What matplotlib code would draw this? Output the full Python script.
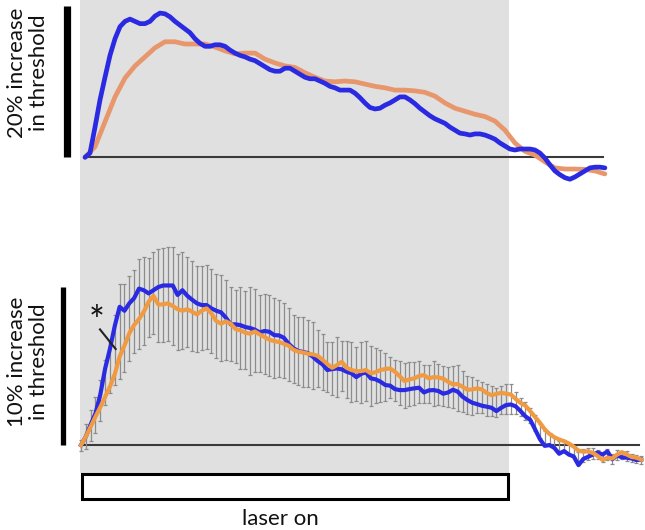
import numpy as np
import matplotlib
matplotlib.use("Agg")
import matplotlib.pyplot as plt
from matplotlib.patches import Rectangle

# ── colours ────────────────────────────────────────────────────────────────
BLUE   = "#2a2ae2"
SALMON = "#e8966c"
ORANGE = "#f09a42"
SHADE  = "#e0e0e0"
ERRC   = "#8c8c8c"
BASEC  = "#3a3a3a"
FONT   = ["Lato", "DejaVu Sans"]

# ── data: % increase in threshold ──────────────────────────────────────────
# top panel (single trace, sampled every ~1.035 time units)
top_blue = [
    0.0, 0.57, 4.0, 7.6, 10.6, 13.5, 15.7, 17.3, 18.0, 18.3,
    18.0, 17.7, 17.7, 18.0, 18.7, 19.1, 19.0, 18.6, 18.0, 17.5,
    17.0, 16.5, 15.7, 15.1, 14.7, 14.7, 14.9, 14.9, 14.7, 14.2,
    13.8, 13.5, 13.3, 13.0, 12.8, 12.4, 12.0, 11.6, 11.4, 11.4,
    11.8, 11.8, 11.4, 11.0, 10.6, 10.4, 10.4, 10.1, 9.8, 9.4,
    9.2, 8.9, 8.9, 8.9, 8.5, 7.9, 7.2, 6.6, 6.4, 6.5,
    6.9, 7.2, 7.6, 8.0, 8.0, 7.6, 7.1, 6.5, 6.0, 5.5,
    5.1, 4.8, 4.5, 4.0, 3.6, 3.2, 3.1, 2.95, 3.1, 3.1,
    2.95, 2.7, 2.4, 1.9, 1.5, 1.1, 0.97, 1.1, 1.1, 1.1,
    0.97, 0.57, -0.1, -1.0, -1.8, -2.3, -2.7, -2.9, -2.6, -2.2,
    -1.8, -1.4, -1.3, -1.3, -1.4,
]
top_salmon = [
    0.0, 1.4, 4.7, 8.0, 10.5, 12.1, 13.3, 14.5, 15.3, 15.3,
    15.0, 15.0, 15.0, 14.6, 14.1, 13.7, 13.8, 13.8, 13.0, 12.5,
    12.1, 11.9, 11.2, 10.6, 10.1, 10.0, 10.1, 10.0, 9.7, 9.4,
    9.2, 8.9, 8.9, 8.8, 8.6, 8.1, 7.2, 6.5, 6.1, 5.7,
    5.4, 4.8, 3.6, 1.9, 0.8, 0.3, -0.6, -1.4, -1.55, -1.55,
    -1.6, -1.8, -2.2,
]

# bottom panel (group averages, one sample per time unit)
bot_blue = [
    0.0, 0.53, 1.3, 2.0, 3.2, 4.85, 6.1, 7.55, 8.75, 8.5,
    8.97, 9.3, 9.9, 9.8, 9.6, 9.8, 10.0, 10.1, 10.1, 10.1,
    9.5, 9.8, 9.45, 9.2, 8.97, 8.86, 8.86, 8.65, 8.5,
    8.40, 8.06, 7.64, 7.64, 7.59, 7.47, 7.41, 7.30, 7.13, 7.22,
    7.17, 6.96, 6.94, 6.79, 6.41, 6.12, 5.95, 5.89, 5.82, 5.59,
    5.32, 5.11, 4.75, 4.81, 4.85, 4.79, 4.64, 4.54, 4.30, 4.51, 4.60,
    4.22, 4.16, 4.01, 3.80, 3.76, 3.54, 3.48, 3.48, 3.54, 3.59,
    3.63, 3.33, 3.46, 3.48, 3.42, 3.25, 3.33, 3.50, 3.38, 3.06,
    2.85, 2.68, 2.59, 2.49, 2.43, 2.36, 2.15, 2.36, 2.53, 2.57,
    2.45, 2.15, 1.82, 1.6, 1.0, 0.38, -0.05, 0.0, -0.18, -0.55,
    -0.38, -0.6, -0.72, -1.27, -0.88, -0.74, -0.6, -0.47, -0.6, -0.4,
    -0.9, -0.65, -0.78, -0.8, -0.85, -0.95, -0.92,
]
bot_orange = [
    0.0, 0.53, 1.16, 1.8, 2.4, 3.06, 3.7, 4.5, 5.6, 6.3,
    7.07, 7.6, 7.97, 8.44, 9.07, 9.45, 8.9, 8.9, 8.97, 8.8,
    8.6, 8.5, 8.6, 8.44, 8.27, 8.5, 8.65, 8.33, 7.85,
    7.68, 7.83, 7.68, 7.34, 7.26, 7.11, 7.05, 7.19, 7.00, 6.84,
    6.67, 6.58, 6.52, 6.41, 6.29, 6.03, 5.91, 5.86, 5.78, 5.74,
    5.65, 5.40, 5.13, 4.89, 5.06, 5.27, 4.89, 4.75, 4.68, 4.68, 4.75,
    4.54, 4.62, 4.75, 4.81, 4.85, 4.64, 4.35, 4.05, 4.16, 4.22,
    4.37, 4.43, 4.22, 4.30, 4.28, 4.20, 4.01, 3.84, 3.86, 3.69,
    3.50, 3.52, 3.59, 3.52, 3.29, 3.16, 3.23, 3.31, 3.25, 3.2,
    2.92, 2.67, 2.5, 2.15, 1.78, 1.42, 1.0, 0.7, 0.5, 0.35,
    0.25, 0.1, -0.1, -0.35, -0.42, -0.4, -0.5, -0.7, -0.95, -0.8,
    -0.85, -0.6, -0.45, -0.6, -0.75, -0.8, -0.92,
]
bot_err = [
    0.35, 0.8, 1.0, 1.15, 1.3, 1.45, 1.6, 2.2, 3.0, 2.8,
    2.7, 2.6, 2.85, 2.76, 2.5, 2.6, 2.95, 2.97, 2.97, 3.1,
    3.06, 3.04, 2.85, 2.85, 2.74, 2.64, 2.66, 2.64, 2.64,
    2.74, 2.53, 2.37, 2.30, 2.6, 2.47, 2.79, 2.64, 2.43, 2.53,
    2.56, 2.51, 2.43, 2.37, 2.32, 2.16, 2.16, 2.22, 2.14, 2.11,
    1.79, 1.79, 1.58, 1.69, 1.9, 1.58, 1.79, 1.9, 1.73, 1.94, 1.9,
    1.92, 1.75, 1.63, 1.5, 1.3, 1.3, 1.4, 1.4, 1.4, 1.35,
    1.35, 1.2, 1.2, 1.4, 1.3, 1.25, 1.25, 1.35, 1.45, 1.3,
    1.2, 1.2, 1.05, 1.0, 1.0, 0.95, 0.9, 0.9, 0.95, 0.95,
    0.7, 0.6, 0.55, 0.5, 0.5, 0.45, 0.4, 0.4, 0.35, 0.35,
    0.35, 0.4, 0.35, 0.35, 0.4, 0.4, 0.35, 0.3, 0.3, 0.35,
    0.3, 0.3, 0.25, 0.3, 0.25, 0.25, 0.25,
]

LASER_ON = (-0.2, 88.6)       # time units
TOP_SCALE, BOT_SCALE = 20, 10  # % scale bars

# sampling times
t_bot = np.arange(len(bot_blue), dtype=float)
t_top_blue = 0.83 + np.arange(len(top_blue)) * 1.035
t_top_salmon = 0.83 + np.arange(len(top_salmon)) * 2.07

bot_blue = np.array(bot_blue)
bot_orange = np.array(bot_orange)
bot_mean = (bot_blue + bot_orange) / 2

# ── figure ─────────────────────────────────────────────────────────────────
fig = plt.figure(figsize=(6.45, 5.30), dpi=100, facecolor="white")
XLIM = (-16.77, 116.77)

ax_top = fig.add_axes([0, 0.5943, 1, 0.4057])
ax_bot = fig.add_axes([0, 0.1075, 1, 0.4868])
ax_box = fig.add_axes([0, 0, 1, 0.1075])
for ax in (ax_top, ax_bot, ax_box):
    ax.set_xlim(*XLIM)
    ax.axis("off")
ax_top.set_ylim(-7.64, 20.83)
ax_bot.set_ylim(-1.77, 14.56)
ax_box.set_ylim(0, 1)

for ax in (ax_top, ax_bot):
    ax.axvspan(*LASER_ON, color=SHADE, lw=0, zorder=0)

# top panel
ax_top.plot([t_top_blue[0] + 0.6, t_top_blue[-1] - 0.4], [0, 0], color=BASEC, lw=1.5, zorder=1)
ax_top.plot(t_top_salmon, top_salmon, color=SALMON, lw=3.4, zorder=2,
            solid_joinstyle="round", solid_capstyle="round")
ax_top.plot(t_top_blue, top_blue, color=BLUE, lw=3.4, zorder=3,
            solid_joinstyle="round", solid_capstyle="round")
ax_top.plot([-2.8, -2.8], [0, TOP_SCALE], color="black", lw=5.2, solid_capstyle="butt")
ax_top.text(-10.97, TOP_SCALE * 0.56, f"{TOP_SCALE}% increase\nin threshold", rotation=90,
            ha="center", va="center", multialignment="center",
            fontsize=16, family=FONT, linespacing=1.12, color="#111111")

# bottom panel
ax_bot.plot([t_bot[0] - 0.2, t_bot[-1] - 0.5], [0, 0], color=BASEC, lw=1.5, zorder=1)
ax_bot.errorbar(t_bot, bot_mean, yerr=bot_err, fmt="none", ecolor=ERRC,
                elinewidth=0.9, capsize=1.7, capthick=0.9, zorder=2)
ax_bot.plot(t_bot, bot_blue, color=BLUE, lw=3.0, zorder=3, solid_joinstyle="round")
ax_bot.plot(t_bot, bot_orange, color=ORANGE, lw=3.0, zorder=4, solid_joinstyle="round")
ax_bot.plot([-3.7, -3.7], [0, BOT_SCALE], color="black", lw=3.8, solid_capstyle="butt")
ax_bot.text(-10.97, BOT_SCALE * 0.525, f"{BOT_SCALE}% increase\nin threshold", rotation=90,
            ha="center", va="center", multialignment="center",
            fontsize=16, family=FONT, linespacing=1.12, color="#111111")

# significance marker
ax_bot.text(3.3, 7.0, "*", ha="center", va="baseline", fontsize=27,
            family=FONT, color="#111111")
ax_bot.plot([3.93, 7.18], [7.32, 6.08], color="#222222", lw=1.5, zorder=5)

# laser-on bar
ax_box.add_patch(Rectangle((0.2, 0.544), 88.2, 0.44, facecolor="white",
                           edgecolor="black", lw=2.2, clip_on=False))
ax_box.text(41.3, 0.19, "laser on", ha="center", va="center",
            fontsize=16, family=FONT, color="#111111")

fig.savefig("out.png", dpi=100, facecolor="white")
